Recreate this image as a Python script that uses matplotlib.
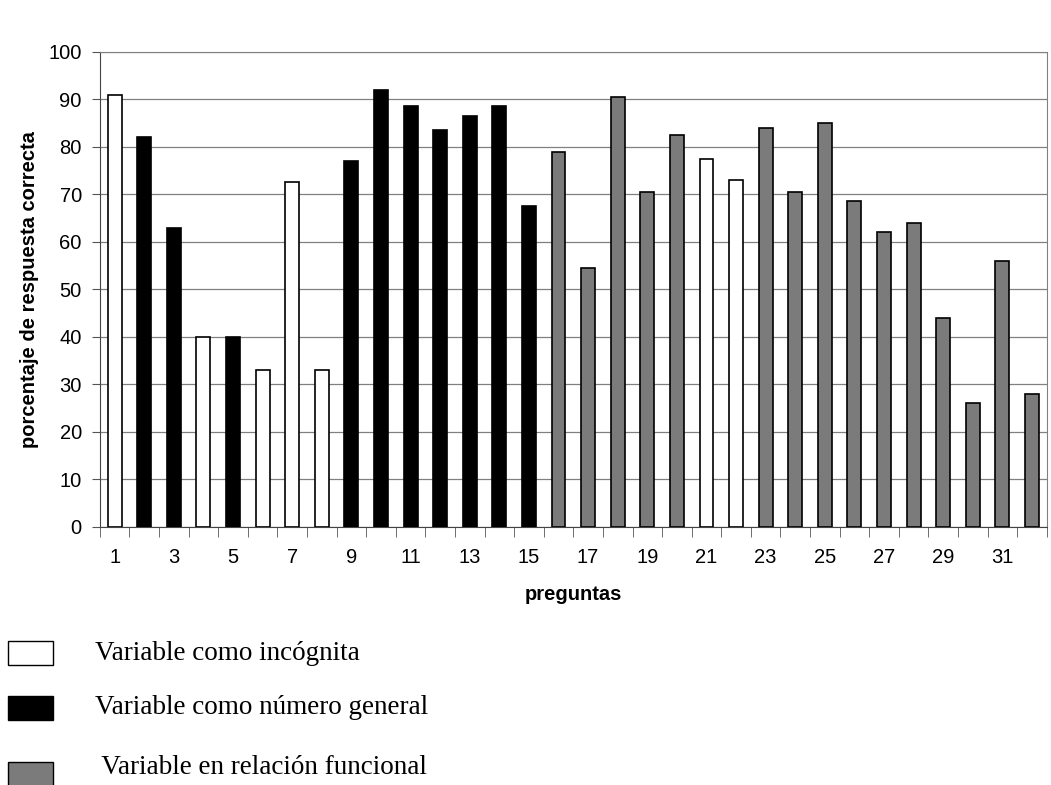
import matplotlib.pyplot as plt
import numpy as np
from matplotlib.patches import Rectangle

# question numbers and % correct answers
preguntas = np.arange(1, 33)
porcentaje = [91, 82, 63, 40, 40, 33, 72.5, 33, 77, 92, 88.5, 83.5, 86.5, 88.5, 67.5,
              79, 54.5, 90.5, 70.5, 82.5, 77.5, 73, 84, 70.5, 85, 68.5, 62, 64, 44, 26, 56, 28]
# 0 = incógnita, 1 = número general, 2 = relación funcional
tipo = [0, 1, 1, 0, 1, 0, 0, 0, 1, 1, 1, 1, 1, 1, 1,
        2, 2, 2, 2, 2, 0, 0, 2, 2, 2, 2, 2, 2, 2, 2, 2, 2]
categorias = ["Variable como incógnita", "Variable como número general",
              " Variable en relación funcional"]
colores = ["white", "black", "#7b7b7b"]

fig = plt.figure(figsize=(10.51, 7.85), dpi=100)
ax = fig.add_axes([0.095, 0.329, 0.901, 0.605])

ax.bar(preguntas, porcentaje, width=0.47, color=[colores[t] for t in tipo],
       edgecolor="black", linewidth=1.2, zorder=3)

ax.set_xlim(0.5, 32.5)
ax.set_ylim(0, 100)
ax.set_yticks(np.arange(0, 101, 10))
ax.yaxis.grid(True, color="#808080", linewidth=0.9, zorder=0)

ax.set_xticks(preguntas[::2])
ax.set_xticklabels([str(p) for p in preguntas[::2]])
ax.set_xticks(np.arange(0.5, 33, 1), minor=True)
ax.tick_params(axis="x", which="major", length=0, pad=15)
ax.tick_params(axis="x", which="minor", length=7, color="#555555", direction="out")
ax.tick_params(axis="y", length=6, color="#555555", pad=7)
ax.tick_params(labelsize=14.5)
for lab in ax.get_xticklabels() + ax.get_yticklabels():
    lab.set_fontfamily("Liberation Sans")

for s in ["top", "right"]:
    ax.spines[s].set_color("#808080")
ax.spines["left"].set_color("#444444")
ax.spines["bottom"].set_color("#444444")

ax.set_ylabel("porcentaje de respuesta correcta", fontsize=14.5, fontweight="bold",
              family="Liberation Sans", labelpad=7)
ax.set_xlabel("preguntas", fontsize=14.5, fontweight="bold",
              family="Liberation Sans", labelpad=13)

# legend drawn as boxes with serif text below the chart
box_top = [641, 696, 762]
text_y = [654, 708, 768]
for cat, col, bt, ty in zip(categorias, colores, box_top, text_y):
    fig.add_artist(Rectangle((8 / 1051, 1 - (bt + 24) / 785), 45 / 1051, 24 / 785,
                             facecolor=col, edgecolor="black", linewidth=1,
                             transform=fig.transFigure))
    fig.text(95 / 1051, 1 - ty / 785, cat, fontsize=19.5,
             family="Liberation Serif", va="center")

fig.savefig("out.png", dpi=100)
